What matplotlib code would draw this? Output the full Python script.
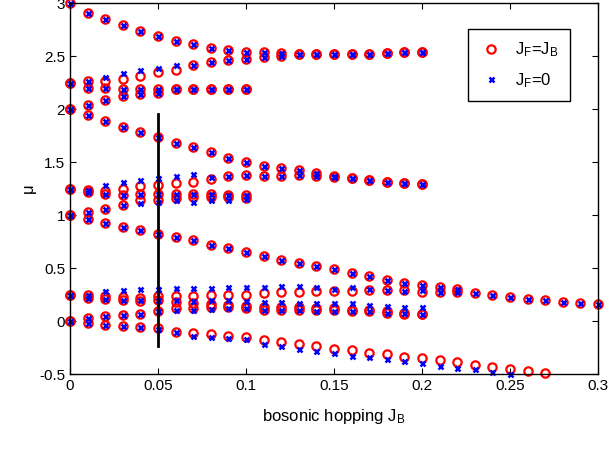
import numpy as np
import matplotlib
matplotlib.use("Agg")
from matplotlib import pyplot as plt

plt.rcParams['font.family'] = ['Liberation Sans', 'DejaVu Sans']
plt.rcParams['mathtext.default'] = 'regular'
plt.rcParams['font.size'] = 11

# branch data, x in steps of 0.01 starting at 0
A = [3.00, 2.91, 2.85, 2.79, 2.74, 2.69, 2.64, 2.61, 2.58, 2.56, 2.54,
     2.54, 2.53, 2.52, 2.52, 2.52, 2.52, 2.52, 2.53, 2.535, 2.54]
B_red = [2.25, 2.26, 2.26, 2.28, 2.31, 2.35, 2.37, 2.42, 2.44, 2.46, 2.47,
         2.49, 2.50, 2.515, 2.52, 2.52, 2.52, 2.52, 2.53, 2.535, 2.54]
B_blue = [2.25, 2.26, 2.30, 2.34, 2.37, 2.39, 2.42, 2.42, 2.44, 2.46, 2.47,
          2.49, 2.50, 2.515, 2.52, 2.52, 2.52, 2.52, 2.53, 2.535, 2.54]
C = [2.25, 2.20, 2.20, 2.19, 2.19, 2.19, 2.19, 2.19, 2.19, 2.19, 2.19]
D = [2.00, 2.035, 2.085, 2.12, 2.14, 2.155, 2.185, 2.19, 2.19, 2.19, 2.19]
E = [2.00, 1.94, 1.89, 1.83, 1.78, 1.74, 1.68, 1.64, 1.59, 1.54, 1.50,
     1.465, 1.44, 1.42, 1.40, 1.365, 1.35, 1.33, 1.315, 1.305, 1.29]
F_red = [1.25, 1.24, 1.23, 1.25, 1.27, 1.28, 1.30, 1.31, 1.34, 1.37, 1.38,
         1.37, 1.37, 1.375, 1.37, 1.36, 1.35, 1.33, 1.315, 1.305, 1.29]
F_blue = [1.25, 1.24, 1.28, 1.31, 1.33, 1.35, 1.37, 1.39, 1.36, 1.37, 1.38,
          1.37, 1.37, 1.375, 1.37, 1.36, 1.35, 1.33, 1.315, 1.305, 1.29]
G = [1.25, 1.22, 1.20, 1.19, 1.20, 1.20, 1.20, 1.20, 1.20, 1.19, 1.19]
H_red = [1.00, 1.03, 1.06, 1.09, 1.14, 1.14, 1.16, 1.17, 1.17, 1.17, 1.16]
H_blue = [1.00, 1.03, 1.06, 1.09, 1.11, 1.12, 1.14, 1.12, 1.14, 1.14, 1.15]
I = [1.00, 0.96, 0.92, 0.89, 0.86, 0.82, 0.79, 0.76, 0.72, 0.69, 0.65,
     0.61, 0.575, 0.55, 0.52, 0.49, 0.455, 0.425, 0.39, 0.36, 0.34,
     0.32, 0.30, 0.26, 0.245, 0.23, 0.21, 0.20, 0.18, 0.17, 0.16]
J_red = [0.25, 0.245, 0.24, 0.23, 0.22, 0.24, 0.24, 0.24, 0.245, 0.25, 0.25,
         0.26, 0.27, 0.27, 0.28, 0.28, 0.28, 0.29, 0.29, 0.29, 0.27, 0.27, 0.27]
J_blue = [0.25, 0.25, 0.28, 0.29, 0.30, 0.30, 0.31, 0.31, 0.31, 0.32, 0.32,
          0.32, 0.33, 0.33, 0.32, 0.30, 0.32, 0.30, 0.29, 0.285, 0.29, 0.27, 0.27]
K_red = [0.25, 0.22, 0.21, 0.20, 0.19, 0.20, 0.18, 0.17, 0.16, 0.15, 0.14,
         0.13, 0.13, 0.13, 0.12, 0.12, 0.10, 0.10, 0.09, 0.08, 0.07]
K_blue = [0.25, 0.22, 0.21, 0.20, 0.20, 0.20, 0.20, 0.19, 0.20, 0.20, 0.19,
          0.18, 0.18, 0.17, 0.17, 0.17, 0.17, 0.15, 0.14, 0.13, 0.13]
L_red = [0.00, 0.03, 0.05, 0.06, 0.07, 0.09, 0.12, 0.12, 0.13, 0.13, 0.12,
         0.10, 0.10, 0.10, 0.10, 0.10, 0.09, 0.09, 0.08, 0.07, 0.065]
L_blue = [0.00, 0.03, 0.05, 0.06, 0.07, 0.09, 0.10, 0.10, 0.11, 0.12, 0.12,
          0.10, 0.10, 0.10, 0.095, 0.095, 0.09, 0.09, 0.08, 0.075, 0.065]
M_red = [0.00, -0.02, -0.035, -0.05, -0.06, -0.07, -0.10, -0.11, -0.125, -0.14,
         -0.15, -0.18, -0.20, -0.22, -0.24, -0.26, -0.27, -0.30, -0.31, -0.34,
         -0.35, -0.37, -0.39, -0.415, -0.43, -0.45, -0.47, -0.49]
M_blue = [0.00, -0.02, -0.035, -0.05, -0.06, -0.08, -0.10, -0.14, -0.15, -0.16,
          -0.17, -0.22, -0.24, -0.26, -0.28, -0.30, -0.33, -0.34, -0.36, -0.38,
          -0.40, -0.42, -0.44, -0.45, -0.48, -0.50]

red_branches = [A, B_red, C, D, E, F_red, G, H_red, I, J_red, K_red, L_red, M_red]
blue_branches = [A, B_blue, C, D, E, F_blue, G, H_blue, I, J_blue, K_blue, L_blue, M_blue]

x_ticks = [0, 0.05, 0.1, 0.15, 0.2, 0.25, 0.3]
x_ticklabels = ['0', '0.05', '0.1', '0.15', '0.2', '0.25', '0.3']
y_ticks = [-0.5, 0, 0.5, 1, 1.5, 2, 2.5, 3]
y_ticklabels = ['-0.5', '0', '0.5', '1', '1.5', '2', '2.5', '3']

cut_x = 0.05
cut_y = [-0.24, 1.95]

fig = plt.figure(figsize=(6.11, 4.51), dpi=100)
ax = fig.add_axes([0.1146, 0.1707, 0.8641, 0.8226])

def xs(vals):
    return np.arange(len(vals)) * 0.01

for i, b in enumerate(red_branches):
    ax.plot(xs(b), b, 'o', ls='none', mfc='none', mec='red', ms=6, mew=1.6,
            clip_on=False, label='J$_F$=J$_B$' if i == 0 else None)
for i, b in enumerate(blue_branches):
    ax.plot(xs(b), b, 'x', ls='none', color='blue', ms=3.6, mew=1.8,
            clip_on=False, label='J$_F$=0' if i == 0 else None)

ax.plot([cut_x, cut_x], cut_y, color='black', lw=2)

ax.set_xlim(0, 0.3)
ax.set_ylim(-0.5, 3)
ax.set_xticks(x_ticks)
ax.set_xticklabels(x_ticklabels)
ax.set_yticks(y_ticks)
ax.set_yticklabels(y_ticklabels)
ax.tick_params(direction='in', top=True, right=True, length=4, labelsize=11)
for s in ax.spines.values():
    s.set_linewidth(1.0)

ax.set_xlabel('bosonic hopping J$_B$', fontsize=12, labelpad=10)
ax.set_ylabel('μ', fontsize=12, labelpad=2)

leg = ax.legend(loc='upper right', bbox_to_anchor=(0.947, 0.93), borderaxespad=0,
                fancybox=False, edgecolor='black', framealpha=1, fontsize=12,
                handlelength=1.3, borderpad=0.7, labelspacing=0.7)
leg.get_frame().set_linewidth(1.0)

fig.savefig('out.png', dpi=100)
